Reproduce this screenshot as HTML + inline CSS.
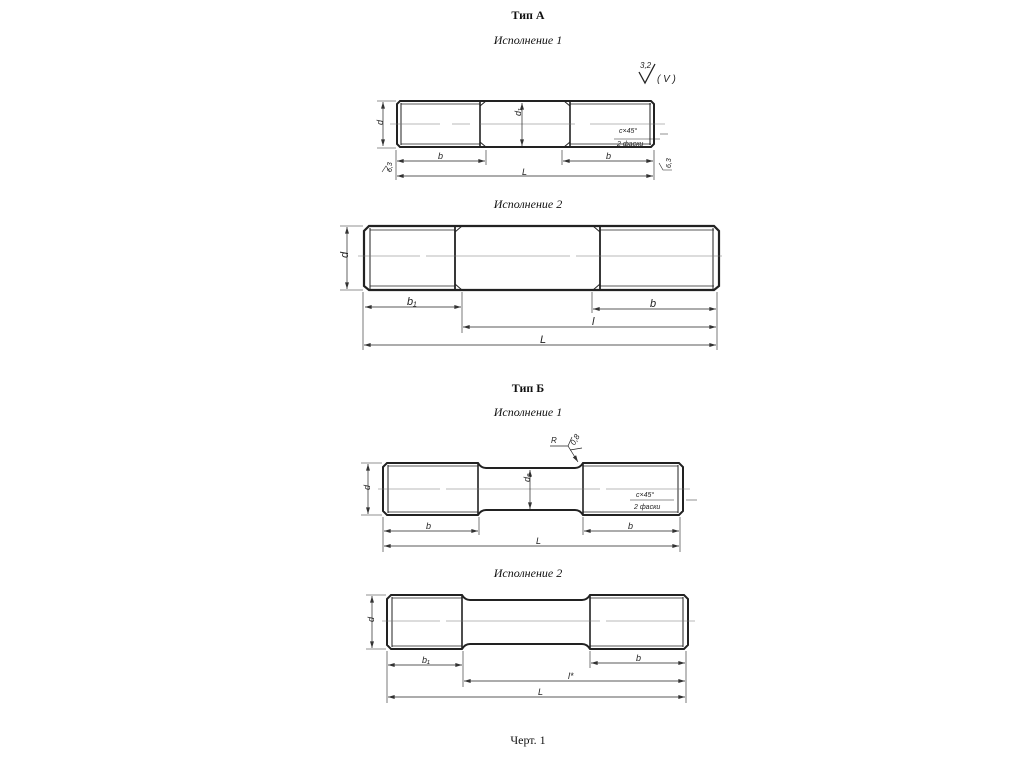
<!DOCTYPE html>
<html><head><meta charset="utf-8">
<style>
html,body{margin:0;padding:0;background:#fff;}
svg{display:block;}
.t{font-family:"Liberation Serif","Noto Serif CJK SC",serif;fill:#111;}
.l{font-family:"Liberation Sans",sans-serif;font-style:italic;fill:#222;}
</style></head>
<body>
<svg width="1024" height="768" viewBox="0 0 1024 768" xmlns="http://www.w3.org/2000/svg">
<defs>
<marker id="a" viewBox="0 0 10 6" refX="10" refY="3" markerWidth="8" markerHeight="4" orient="auto-start-reverse" markerUnits="userSpaceOnUse"><path d="M0,0 L10,3 L0,6z" fill="#333"/></marker>
</defs>

<text class="t" x="528" y="19" font-size="12" font-weight="bold" text-anchor="middle">Тип А</text>
<text class="t" x="528" y="44" font-size="12" font-style="italic" text-anchor="middle">Исполнение 1</text>
<text class="t" x="528" y="208" font-size="12" font-style="italic" text-anchor="middle">Исполнение 2</text>
<text class="t" x="528" y="392" font-size="12" font-weight="bold" text-anchor="middle">Тип Б</text>
<text class="t" x="528" y="416" font-size="12" font-style="italic" text-anchor="middle">Исполнение 1</text>
<text class="t" x="528" y="577" font-size="12" font-style="italic" text-anchor="middle">Исполнение 2</text>
<text class="t" x="528" y="744" font-size="12" text-anchor="middle">Черт. 1</text>

<!-- roughness symbol -->
<g stroke="#222" stroke-width="1.3" fill="none">
<path d="M639,72 L645,83 L655,64"/>
</g>
<text class="l" x="640" y="68" font-size="8">3,2</text>
<text class="l" x="657" y="82" font-size="10" font-style="normal">( V )</text>

<!-- ===== Тип А, Исп 1 ===== -->
<g stroke="#222" fill="none">
<path d="M400,101 L651,101 L654,104 L654,144 L651,147 L400,147 L397,144 L397,104 Z" stroke-width="2"/>
<path d="M401,104 L480,104 M401,144 L480,144 M570,104 L651,104 M570,144 L651,144" stroke-width="0.8"/>
<path d="M401,103 L401,145 M650,103 L650,145" stroke-width="1"/>
<path d="M480,101 L480,147 M570,101 L570,147" stroke-width="1.6"/>
<path d="M480,106 L486,101 M480,142 L486,147 M570,106 L564,101 M570,142 L564,147" stroke-width="1"/>
<path d="M390,124 L440,124 M452,124 L470,124 M480,124 L575,124 M590,124 L665,124" stroke-width="0.6" stroke="#777"/>
<path d="M377,101 L396,101 M377,148 L396,148" stroke-width="0.6"/>
<path d="M383,102 L383,146" stroke-width="0.7" marker-start="url(#a)" marker-end="url(#a)"/>
<path d="M522,103 L522,146" stroke-width="0.7" marker-start="url(#a)" marker-end="url(#a)"/>
<path d="M396,150 L396,180 M486,150 L486,165 M562,150 L562,165 M654,150 L654,180" stroke-width="0.6"/>
<path d="M397,161 L485,161" stroke-width="0.7" marker-start="url(#a)" marker-end="url(#a)"/>
<path d="M563,161 L653,161" stroke-width="0.7" marker-start="url(#a)" marker-end="url(#a)"/>
<path d="M397,176 L653,176" stroke-width="0.7" marker-start="url(#a)" marker-end="url(#a)"/>
<path d="M614,139 L660,139 M660,134 L668,134" stroke-width="0.6"/>
<path d="M382,172 L386,166 L390,172 M659,163 L663,170 L672,170" stroke-width="0.6"/>
</g>
<text class="l" x="380" y="128" font-size="9" transform="rotate(-90 380 125)">d</text>
<text class="l" x="518" y="119" font-size="9" transform="rotate(-90 518 116)">d₁</text>
<text class="l" x="438" y="159" font-size="9">b</text>
<text class="l" x="606" y="159" font-size="9">b</text>
<text class="l" x="522" y="175" font-size="9">L</text>
<text class="l" x="619" y="133" font-size="7">c×45°</text>
<text class="l" x="617" y="146" font-size="7">2 фаски</text>
<text class="l" x="388" y="176" font-size="7" transform="rotate(-90 388 172)">6,3</text>
<text class="l" x="667" y="172" font-size="7" transform="rotate(-90 667 168)">6,3</text>

<!-- ===== Тип А, Исп 2 ===== -->
<g stroke="#222" fill="none">
<path d="M369,226 L714,226 L719,231 L719,286 L714,290 L369,290 L364,286 L364,231 Z" stroke-width="2.2"/>
<path d="M370,230 L455,230 M370,286 L455,286 M600,230 L714,230 M600,286 L714,286" stroke-width="0.8"/>
<path d="M370,228 L370,289 M713,228 L713,289" stroke-width="1"/>
<path d="M455,226 L455,290 M600,226 L600,290" stroke-width="1.8"/>
<path d="M455,232 L462,226 M455,284 L462,290 M600,232 L593,226 M600,284 L593,290" stroke-width="1"/>
<path d="M358,256 L420,256 M426,256 L570,256 M576,256 L722,256" stroke-width="0.6" stroke="#777"/>
<path d="M340,226 L363,226 M340,290 L363,290" stroke-width="0.6"/>
<path d="M347,227 L347,289" stroke-width="0.7" marker-start="url(#a)" marker-end="url(#a)"/>
<path d="M363,292 L363,350 M462,292 L462,333 M592,292 L592,313 M717,292 L717,350" stroke-width="0.6"/>
<path d="M365,307 L461,307" stroke-width="0.7" marker-start="url(#a)" marker-end="url(#a)"/>
<path d="M593,309 L716,309" stroke-width="0.7" marker-start="url(#a)" marker-end="url(#a)"/>
<path d="M463,327 L716,327" stroke-width="0.7" marker-start="url(#a)" marker-end="url(#a)"/>
<path d="M364,345 L716,345" stroke-width="0.7" marker-start="url(#a)" marker-end="url(#a)"/>
</g>
<text class="l" x="344" y="262" font-size="11" transform="rotate(-90 344 258)">d</text>
<text class="l" x="407" y="305" font-size="11">b₁</text>
<text class="l" x="650" y="307" font-size="11">b</text>
<text class="l" x="592" y="325" font-size="11">l</text>
<text class="l" x="540" y="343" font-size="11">L</text>

<!-- ===== Тип Б, Исп 1 ===== -->
<g stroke="#222" fill="none">
<path d="M383,467 L387,463 L478,463 Q481,468 486,468 L575,468 Q580,468 583,463 L679,463 L683,467 L683,511 L679,515 L583,515 Q580,510 575,510 L486,510 Q481,510 478,515 L387,515 L383,511 Z" stroke-width="2"/>
<path d="M478,463 L478,515 M583,463 L583,515" stroke-width="1.6"/>
<path d="M388,466 L478,466 M388,512 L478,512 M583,466 L678,466 M583,512 L678,512" stroke-width="0.8"/>
<path d="M388,465 L388,513 M678,465 L678,513" stroke-width="1"/>
<path d="M378,489 L440,489 M446,489 L600,489 M606,489 L690,489" stroke-width="0.6" stroke="#777"/>
<path d="M361,463 L382,463 M361,515 L382,515" stroke-width="0.6"/>
<path d="M368,464 L368,514" stroke-width="0.7" marker-start="url(#a)" marker-end="url(#a)"/>
<path d="M530,470 L530,509" stroke-width="0.7" marker-start="url(#a)" marker-end="url(#a)"/>
<path d="M383,517 L383,552 M479,517 L479,535 M583,517 L583,535 M680,517 L680,552" stroke-width="0.6"/>
<path d="M384,531 L478,531" stroke-width="0.7" marker-start="url(#a)" marker-end="url(#a)"/>
<path d="M584,531 L679,531" stroke-width="0.7" marker-start="url(#a)" marker-end="url(#a)"/>
<path d="M384,546 L679,546" stroke-width="0.7" marker-start="url(#a)" marker-end="url(#a)"/>
<path d="M550,446 L568,446 L578,462" stroke-width="0.7" marker-end="url(#a)"/>
<path d="M568,446 L572,437 M570,450 L582,448" stroke-width="0.7"/>
<path d="M630,500 L674,500 M686,500 L697,500" stroke-width="0.6"/>
</g>
<text class="l" x="366" y="494" font-size="9" transform="rotate(-90 366 490)">d</text>
<text class="l" x="526" y="486" font-size="9" transform="rotate(-90 526 482)">d₂</text>
<text class="l" x="426" y="529" font-size="9">b</text>
<text class="l" x="628" y="529" font-size="9">b</text>
<text class="l" x="536" y="544" font-size="9">L</text>
<text class="l" x="551" y="443" font-size="8">R</text>
<text class="l" x="570" y="446" font-size="8" transform="rotate(-60 572 442)">0,8</text>
<text class="l" x="636" y="497" font-size="7">c×45°</text>
<text class="l" x="634" y="509" font-size="7">2 фаски</text>

<!-- ===== Тип Б, Исп 2 ===== -->
<g stroke="#222" fill="none">
<path d="M387,599 L391,595 L462,595 Q465,600 470,600 L582,600 Q587,600 590,595 L684,595 L688,599 L688,645 L684,649 L590,649 Q587,644 582,644 L470,644 Q465,644 462,649 L391,649 L387,645 Z" stroke-width="2"/>
<path d="M462,595 L462,649 M590,595 L590,649" stroke-width="1.6"/>
<path d="M392,598 L462,598 M392,646 L462,646 M590,598 L683,598 M590,646 L683,646" stroke-width="0.8"/>
<path d="M392,597 L392,647 M683,597 L683,647" stroke-width="1"/>
<path d="M382,621 L440,621 M446,621 L600,621 M606,621 L695,621" stroke-width="0.6" stroke="#777"/>
<path d="M366,595 L386,595 M366,649 L386,649" stroke-width="0.6"/>
<path d="M372,596 L372,648" stroke-width="0.7" marker-start="url(#a)" marker-end="url(#a)"/>
<path d="M387,651 L387,703 M463,651 L463,687 M590,651 L590,668 M686,651 L686,703" stroke-width="0.6"/>
<path d="M388,665 L462,665" stroke-width="0.7" marker-start="url(#a)" marker-end="url(#a)"/>
<path d="M591,663 L685,663" stroke-width="0.7" marker-start="url(#a)" marker-end="url(#a)"/>
<path d="M464,681 L685,681" stroke-width="0.7" marker-start="url(#a)" marker-end="url(#a)"/>
<path d="M388,697 L685,697" stroke-width="0.7" marker-start="url(#a)" marker-end="url(#a)"/>
</g>
<text class="l" x="370" y="626" font-size="9" transform="rotate(-90 370 622)">d</text>
<text class="l" x="422" y="663" font-size="9">b₁</text>
<text class="l" x="636" y="661" font-size="9">b</text>
<text class="l" x="568" y="679" font-size="9">l*</text>
<text class="l" x="538" y="695" font-size="9">L</text>
</svg>
</body></html>
